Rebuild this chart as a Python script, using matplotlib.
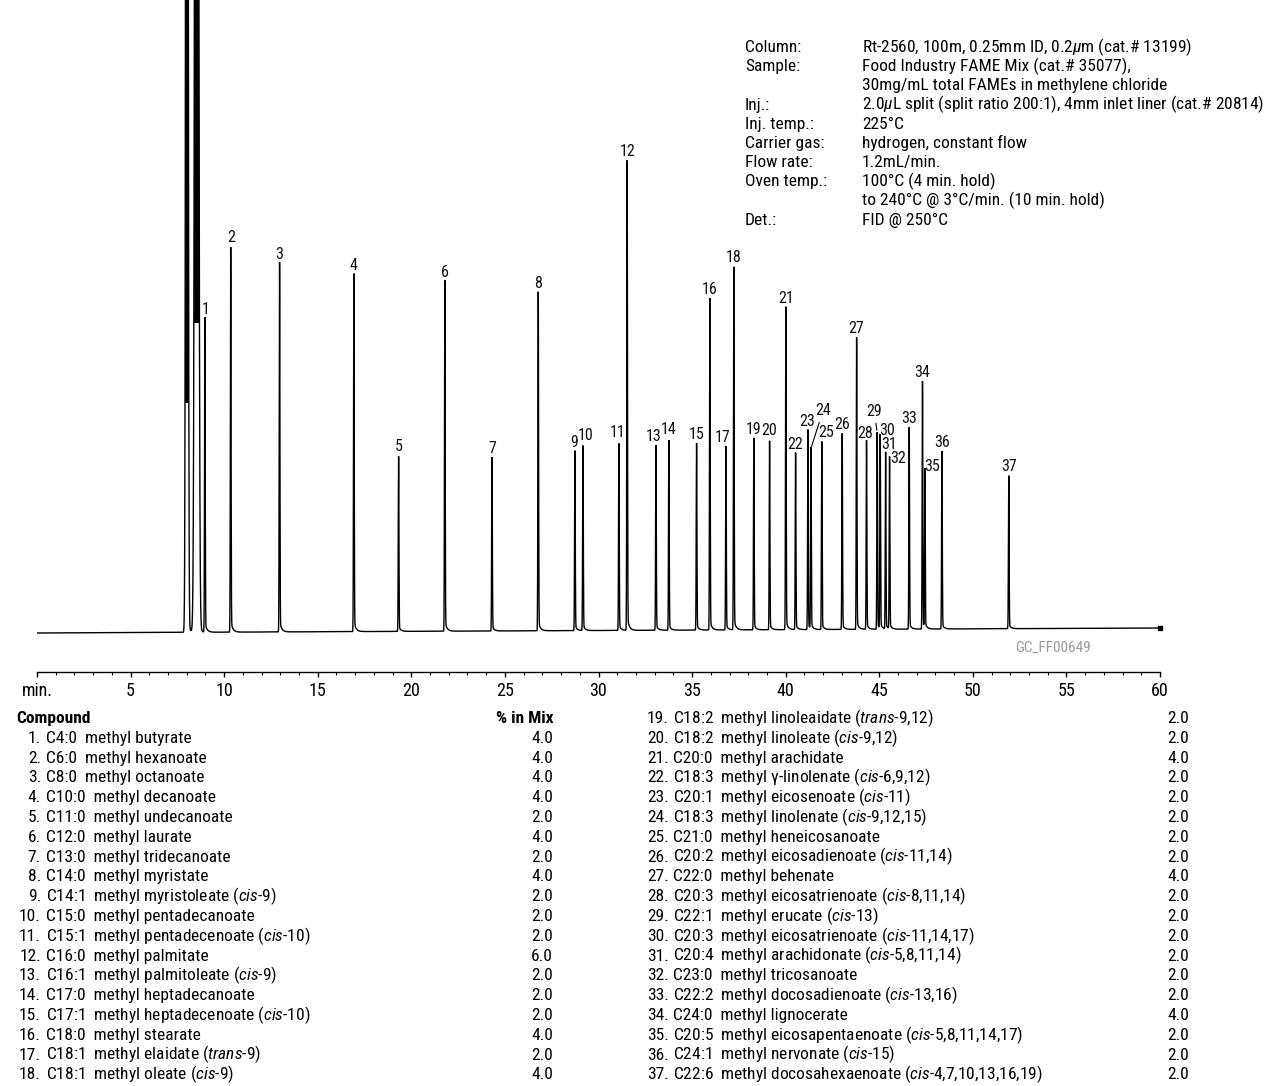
import numpy as np
import matplotlib
matplotlib.use("Agg")
import matplotlib.pyplot as plt
from matplotlib import font_manager as fm

# ---------------------------------------------------------------- data
peak_ids = list(range(1, 38))
retention_min = [8.97, 10.35, 12.96, 16.93, 19.32, 21.79, 24.31, 26.78, 28.74, 29.17,
                 31.09, 31.53, 33.07, 33.76, 35.24, 35.95, 36.81, 37.23, 38.30, 39.14,
                 40.01, 40.53, 41.19, 41.35, 41.93, 43.02, 43.79, 44.32, 44.89, 45.05,
                 45.34, 45.55, 46.60, 47.31, 47.44, 48.35, 51.92]
peak_height = [315, 385, 370, 358, 175, 351, 174, 339, 180, 185,
               187, 470, 185, 190, 187, 332, 184, 363, 192, 189,
               323, 177, 200, 181, 188, 196, 292, 189, 197, 194,
               177, 172, 202, 248, 159, 178, 153]
solvent_min = [8.01, 8.53]
solvent_height = [3000, 3000]
baseline_start = 0.0
baseline_end = 5.0
run_end_min = 60

tick_values = [0, 5, 10, 15, 20, 25, 30, 35, 40, 45, 50, 55, 60]
tick_labels = ["min.", "5", "10", "15", "20", "25", "30", "35", "40", "45", "50", "55", "60"]

lipid = ["C4:0", "C6:0", "C8:0", "C10:0", "C11:0", "C12:0", "C13:0", "C14:0", "C14:1",
         "C15:0", "C15:1", "C16:0", "C16:1", "C17:0", "C17:1", "C18:0", "C18:1", "C18:1",
         "C18:2", "C18:2", "C20:0", "C18:3", "C20:1", "C18:3", "C21:0", "C20:2", "C22:0",
         "C20:3", "C22:1", "C20:3", "C20:4", "C23:0", "C22:2", "C24:0", "C20:5", "C24:1",
         "C22:6"]
compound_name = ["methyl butyrate", "methyl hexanoate", "methyl octanoate", "methyl decanoate",
                 "methyl undecanoate", "methyl laurate", "methyl tridecanoate", "methyl myristate",
                 "methyl myristoleate", "methyl pentadecanoate", "methyl pentadecenoate",
                 "methyl palmitate", "methyl palmitoleate", "methyl heptadecanoate",
                 "methyl heptadecenoate", "methyl stearate", "methyl elaidate", "methyl oleate",
                 "methyl linoleaidate", "methyl linoleate", "methyl arachidate",
                 "methyl \u03b3-linolenate", "methyl eicosenoate", "methyl linolenate",
                 "methyl heneicosanoate", "methyl eicosadienoate", "methyl behenate",
                 "methyl eicosatrienoate", "methyl erucate", "methyl eicosatrienoate",
                 "methyl arachidonate", "methyl tricosanoate", "methyl docosadienoate",
                 "methyl lignocerate", "methyl eicosapentaenoate", "methyl nervonate",
                 "methyl docosahexaenoate"]
isomer_kind = ["", "", "", "", "", "", "", "", "cis", "", "cis", "", "cis", "", "cis", "",
               "trans", "cis", "trans", "cis", "", "cis", "cis", "cis", "", "cis", "", "cis",
               "cis", "cis", "cis", "", "cis", "", "cis", "cis", "cis"]
isomer_pos = ["", "", "", "", "", "", "", "", "9", "", "10", "", "9", "", "10", "",
              "9", "9", "9,12", "9,12", "", "6,9,12", "11", "9,12,15", "", "11,14", "",
              "8,11,14", "13", "11,14,17", "5,8,11,14", "", "13,16", "", "5,8,11,14,17", "15",
              "4,7,10,13,16,19"]
percent_in_mix = [4.0, 4.0, 4.0, 4.0, 2.0, 4.0, 2.0, 4.0, 2.0, 2.0, 2.0, 6.0, 2.0, 2.0, 2.0,
                  4.0, 2.0, 4.0, 2.0, 2.0, 4.0, 2.0, 2.0, 2.0, 2.0, 2.0, 4.0, 2.0, 2.0, 2.0,
                  2.0, 2.0, 2.0, 4.0, 2.0, 2.0, 2.0]

cond_labels = ["Column:", "Sample:", "", "Inj.:", "Inj. temp.:", "Carrier gas:",
               "Flow rate:", "Oven temp.:", "", "Det.:"]
cond_values = [r"Rt-2560, 100m, 0.25mm ID, 0.2$\mu$m (cat.# 13199)",
               "Food Industry FAME Mix (cat.# 35077),",
               "30mg/mL total FAMEs in methylene chloride",
               r"2.0$\mu$L split (split ratio 200:1), 4mm inlet liner (cat.# 20814)",
               "225\u00b0C",
               "hydrogen, constant flow",
               "1.2mL/min.",
               "100\u00b0C (4 min. hold)",
               "to 240\u00b0C @ 3\u00b0C/min. (10 min. hold)",
               "FID @ 250\u00b0C"]
chrom_id = "GC_FF00649"

# ---------------------------------------------------------------- fonts
available = {f.name for f in fm.fontManager.ttflist}
FONT = "DejaVu Sans"
for cand in ["Liberation Sans Narrow", "Roboto Condensed", "Open Sans Condensed",
             "DejaVu Sans Condensed", "Liberation Sans", "Roboto"]:
    if cand in available:
        FONT = cand
        break
plt.rcParams["font.family"] = [FONT, "DejaVu Sans"]
plt.rcParams["mathtext.fontset"] = "custom"
plt.rcParams["mathtext.rm"] = FONT
plt.rcParams["mathtext.it"] = FONT + ":italic"
plt.rcParams["mathtext.bf"] = FONT + ":bold"

# ---------------------------------------------------------------- layout (pixels)
W, H = 1279, 1086
fig = plt.figure(figsize=(W / 100, H / 100), dpi=100)
fig.patch.set_facecolor("white")


def fx(x):
    return x / W


def fy(y):
    return 1 - y / H


AX_L, AX_R, AX_B = 37, 1160, 672
Y_BASE_PX = 633
ax = fig.add_axes([fx(AX_L), fy(AX_B), (AX_R - AX_L) / W, AX_B / H])
ax.set_xlim(0, run_end_min)
ax.set_ylim(-(AX_B - Y_BASE_PX), Y_BASE_PX)
ax.patch.set_alpha(0)
for s in ["top", "right", "left"]:
    ax.spines[s].set_visible(False)
ax.spines["bottom"].set_linewidth(1.0)
ax.set_yticks([])
ax.set_xticks(tick_values, tick_labels)
ax.set_xticks([m for m in range(0, 61) if m % 5], minor=True)
ax.tick_params(axis="x", which="major", direction="out", length=3.5, width=1.0,
               labelsize=13, pad=4.0, colors="black")
ax.tick_params(axis="x", which="minor", direction="out", length=2.5, width=0.8)

# ---------------------------------------------------------------- trace
t = np.linspace(0, run_end_min, 60001)
drift = baseline_start + (baseline_end - baseline_start) * t / run_end_min
signal = drift.copy()


def peak(t0, h, sigma, tail_frac, tau):
    g = np.exp(-0.5 * ((t - t0) / sigma) ** 2)
    tail = np.where(t > t0, np.exp(-np.clip(t - t0, 0, None) / tau), 0.0) * (1 - g)
    return h * (g + tail_frac * tail)


solvent_sigma = [0.045, 0.07]
solvent_fill_level = [230, 310]
solvent_curves = []
for t0, h, sg in zip(solvent_min, solvent_height, solvent_sigma):
    c = peak(t0, h, sg, 0.003, 0.12)
    solvent_curves.append(c)
    signal = signal + c
for t0, h in zip(retention_min, peak_height):
    signal = signal + peak(t0, h, 0.018, 0.03, 0.10)

ax.plot(t, signal, color="black", lw=1.0, solid_joinstyle="miter")
for c, lvl in zip(solvent_curves, solvent_fill_level):
    body = drift + c
    ax.fill_between(t, lvl, body, where=body > lvl, color="black", lw=0)
ax.plot([t[-1]], [signal[-1]], "s", color="black", ms=3.2, clip_on=False)

# ---------------------------------------------------------------- peak labels
label_offset = {1: (1, 9), 2: (0, 11), 3: (0, 9), 4: (0, 9), 5: (0, 11), 6: (0, 9),
                9: (-1, 9), 10: (3, 11), 11: (-1, 12), 13: (-2, 10), 14: (0, 12),
                17: (-3, 10), 18: (0, 11), 20: (0, 12), 21: (0, 9), 22: (0, 9),
                23: (-1, 9), 24: (12, 39), 25: (4, 10), 28: (-1, 8), 29: (-3, 22),
                30: (7, 6), 31: (4, 9), 32: (9, 0), 35: (7, 5)}
leader = {24, 29}
CAP = 5.8
for pid, t0, h in zip(peak_ids, retention_min, peak_height):
    top = h + baseline_start + (baseline_end - baseline_start) * t0 / run_end_min
    dx, dy = label_offset.get(pid, (0, 10))
    kw = {}
    if pid in leader:
        kw["arrowprops"] = dict(arrowstyle="-", lw=0.8, color="black",
                                shrinkA=1, shrinkB=1.5)
    ax.annotate(str(pid), xy=(t0, top), xytext=(dx, dy - CAP),
                textcoords="offset pixels", ha="center", va="baseline",
                fontsize=11.5, color="#111111", annotation_clip=False, **kw)

fig.text(fx(1053), fy(648), chrom_id, fontsize=11, color="#9a9a9a",
         ha="center", va="center")

# ---------------------------------------------------------------- conditions block
COND_X1, COND_X2, COND_Y0, COND_DY = 745, 862, 52, 19.2
for i, (lab, val) in enumerate(zip(cond_labels, cond_values)):
    y = COND_Y0 + i * COND_DY
    if lab:
        fig.text(fx(COND_X1), fy(y), lab, fontsize=12.5, ha="left", va="baseline")
    fig.text(fx(COND_X2), fy(y), val, fontsize=12.5, ha="left", va="baseline")

# ---------------------------------------------------------------- compound table
def entry(i):
    s = f"{lipid[i]}  {compound_name[i]}"
    if isomer_kind[i]:
        s += f" ($\\mathit{{{isomer_kind[i]}}}$-{isomer_pos[i]})"
    return s


TSIZE = 12.5
ROW0, ROWDY = 723, 19.8
fig.text(fx(16), fy(ROW0), "Compound", fontsize=TSIZE, fontweight="bold",
         ha="left", va="baseline")
fig.text(fx(553), fy(ROW0), "% in Mix", fontsize=TSIZE, fontweight="bold",
         ha="right", va="baseline")
for i in range(18):
    y = ROW0 + (i + 1) * ROWDY
    fig.text(fx(41), fy(y), f"{peak_ids[i]}.", fontsize=TSIZE, ha="right", va="baseline")
    fig.text(fx(46), fy(y), entry(i), fontsize=TSIZE, ha="left", va="baseline")
    fig.text(fx(553), fy(y), f"{percent_in_mix[i]:.1f}", fontsize=TSIZE,
             ha="right", va="baseline")
for k, i in enumerate(range(18, 37)):
    y = ROW0 + k * ROWDY
    fig.text(fx(669), fy(y), f"{peak_ids[i]}.", fontsize=TSIZE, ha="right", va="baseline")
    fig.text(fx(673), fy(y), entry(i), fontsize=TSIZE, ha="left", va="baseline")
    fig.text(fx(1189), fy(y), f"{percent_in_mix[i]:.1f}", fontsize=TSIZE,
             ha="right", va="baseline")

fig.savefig("out.png", dpi=100, facecolor="white")
